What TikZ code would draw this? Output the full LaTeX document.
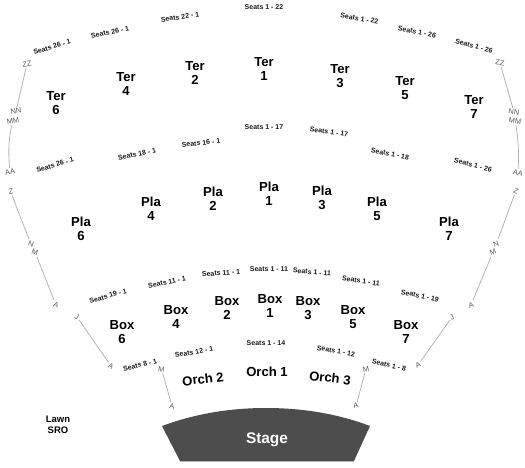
\documentclass[tikz,border=0pt]{standalone}
\usepackage{fontspec}
\setmainfont{Liberation Sans}
\definecolor{seatc}{HTML}{1A1A1A}
\definecolor{rowc}{HTML}{5A5A5A}
\definecolor{linec}{HTML}{B4B4B4}
\definecolor{stagec}{HTML}{4D4D4D}
\tikzset{
  seat/.style={font=\fontsize{7}{8}\bfseries\selectfont,text=seatc,inner sep=0pt},
  sect/.style={font=\fontsize{13.1}{14.2}\bfseries\selectfont,text=black,align=center,inner sep=0pt},
  rowl/.style={font=\fontsize{7.5}{8}\selectfont,text=rowc,inner sep=1.2pt},
  rowline/.style={draw=linec,line width=0.8pt},
}
\begin{document}
\begin{tikzpicture}[x=1pt,y=-1pt]
\useasboundingbox (0,0) rectangle (525,467);
% seat labels
\foreach \n/\x/\y/\a/\t in {
 a1/52/47/17/Seats 26 - 1, a2/110/32/12/Seats 26 - 1, a3/180/17/8/Seats 22 - 1, a4/264/7.5/0/Seats 1 - 22,
 a5/359.5/18.5/-10/Seats 1 - 22, a6/417/32/-12/Seats 1 - 26, a7/474/46/-15/Seats 1 - 26,
 b1/55/165/17/Seats 26 - 1, b2/137/154/12/Seats 18 - 1, b3/201/143/6/Seats 16 - 1, b4/264/127.5/0/Seats 1 - 17,
 b5/329/132/-8/Seats 1 - 17, b6/390/154/-12/Seats 1 - 18, b7/473/165/-14/Seats 1 - 26,
 c1/108/296/15/Seats 19 - 1, c2/167/282/11/Seats 11 - 1, c3/221/273/4/Seats 11 - 1, c4/269/269.5/0/Seats 1 - 11,
 c5/312/272/-5/Seats 1 - 11, c6/361/281/-8/Seats 1 - 11, c7/420/296/-13/Seats 1 - 19,
 d1/140/365/14/Seats 8 - 1, d2/194/352/9/Seats 12 - 1, d3/266/343/0/Seats 1 - 14,
 d4/336/351/-10/Seats 1 - 12, d5/389/365/-13/Seats 1 - 8}
 {\node[seat,rotate=\a] (\n) at (\x,\y) {\t};}
% sections
\foreach \n/\x/\y/\t/\m in {
 t6/56/103/Ter/6, t4/126/84/Ter/4, t2/195/73/Ter/2, t1/264/69/Ter/1, t3/340/76/Ter/3, t5/405/88/Ter/5, t7/474/107/Ter/7,
 p6/81/229/Pla/6, p4/151/209/Pla/4, p2/213/199/Pla/2, p1/269/194/Pla/1, p3/322/198/Pla/3, p5/377/209/Pla/5, p7/449/229/Pla/7,
 x6/122/332/Box/6, x4/176/317/Box/4, x2/227/308/Box/2, x1/270/306/Box/1, x3/308/308/Box/3, x5/353/317/Box/5, x7/406/332/Box/7}
 {\node[sect] (\n) at (\x,\y) {\t\\\m};}
\node[sect,rotate=7] (o2) at (203,379) {Orch 2};
\node[sect] (o1) at (267,372) {Orch 1};
\node[sect,rotate=-7] (o3) at (330,378) {Orch 3};
\node[sect,font=\fontsize{9.5}{11.2}\bfseries\selectfont] (lawn) at (58,425) {Lawn\\SRO};
% row letters
\foreach \n/\x/\y/\a/\t in {
 zzL/27/64/8/ZZ, nnL/16/111/10/NN, mmL/13/121/10/MM, aaL/10/172/12/AA, zL/11/192/10/Z,
 nL/31/244/-20/N, mL/35/252/-20/M, aL/56/305/-20/A, jL/77/317/-25/J, a2L/111/366/-25/A, m3L/161.5/369/-10/M, a3L/172/406/-10/A,
 zzR/500/63/-8/ZZ, nnR/514/112/-10/NN, mmR/515/121/-10/MM, aaR/518/173/-12/AA, zR/516/191/-25/Z,
 nR/496/244/20/N, mR/493/252/20/M, aR/471/305/20/A, jR/452/317/25/J, a2R/418/365/25/A, m3R/366/369/10/M, a3R/356/406/10/A}
 {\node[rowl,rotate=\a] (\n) at (\x,\y) {\t};}
% row lines
\draw[rowline] (zzL) -- (nnL);
\draw[rowline] (mmL) .. controls (9,136) and (8,150) .. (aaL);
\draw[rowline] (zL) .. controls (16,206) and (23,224) .. (nL);
\draw[rowline] (mL) -- (aL);
\draw[rowline] (jL) -- (a2L);
\draw[rowline] (m3L) -- (a3L);
\draw[rowline] (zzR) -- (nnR);
\draw[rowline] (mmR) .. controls (518,136) and (519,150) .. (aaR);
\draw[rowline] (zR) .. controls (510,206) and (504,224) .. (nR);
\draw[rowline] (mR) -- (aR);
\draw[rowline] (jR) -- (a2R);
\draw[rowline] (m3R) -- (a3R);
% stage
\fill[stagec] (162,426) .. controls (197,413) and (232,408) .. (266,408)
  .. controls (300,408) and (336,413) .. (370,426) -- (354,461) -- (180,461) -- cycle;
\draw[linec,line width=0.6pt] (180,461.4) -- (354,461.4);
\node[font=\fontsize{15.4}{16}\bfseries\selectfont,text=white,inner sep=0pt,anchor=base] (stage) at (267,443.5) {Stage};
\end{tikzpicture}
\end{document}
